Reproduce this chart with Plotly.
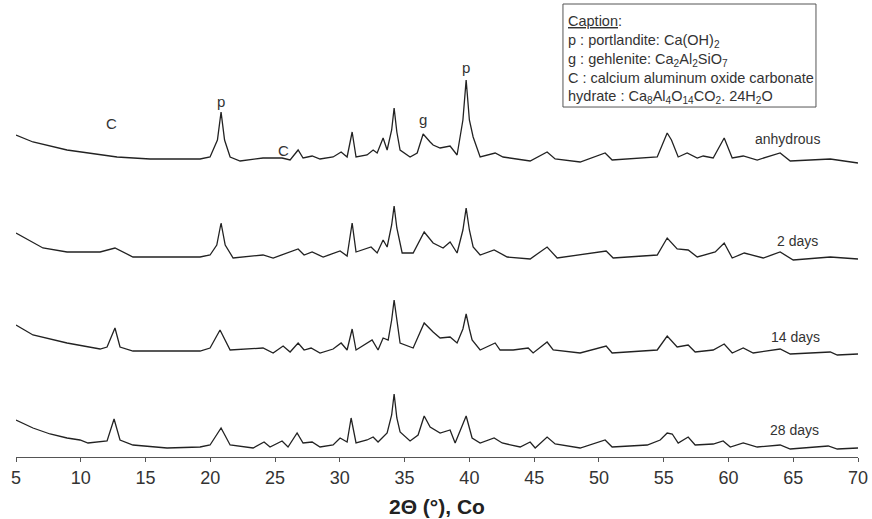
import plotly.graph_objects as go

# 2-theta (deg), intensity (a.u., stacked offsets included)
anhydrous = [(5.0,322),(6.31,315),(8.94,307),(11.49,302),(12.8,300),(15.35,298),(19.21,298),(19.98,300),
    (20.55,317),(20.83,345),(21.1,317),(21.53,300),(22.3,296),(24.07,299),(25.54,299),(26.16,297),
    (26.78,307),(27.16,299),(27.86,301),(28.47,298),(29.48,300),(30.10,305),(30.56,300),(30.95,325),
    (31.25,300),(32.10,302),(32.57,307),(32.88,304),(33.34,319),(33.65,307),(34.0,327),(34.19,349),
    (34.4,325),(34.65,307),(35.42,300),(35.97,304),(36.43,323),(36.97,315),(37.20,312),(37.74,309),
    (38.51,311),(39.05,302),(39.5,337),(39.75,377),(40.0,337),(40.29,320),(40.83,300),(41.99,304),
    (42.6,300),(44.69,296),(46.00,305),(46.62,298),(48.55,295),(50.48,304),(51.02,297),(54.50,300),
    (54.9,312),(55.27,324),(55.6,317),(56.12,300),(56.81,304),(57.59,299),(58.05,301),(58.82,299),
    (59.67,319),(60.29,299),(61.14,301),(62.22,297),(63.99,304),(64.77,296),(67.86,298),(70.0,294)]

days_2 = [(5.0,224),(7.08,209),(8.94,205),(11.49,205),(12.64,209),(14.03,200),(19.21,200),(19.98,202),
    (20.5,212),(20.83,234),(21.15,212),(21.76,199),(24.07,202),(24.85,199),(26.78,208),(27.24,202),
    (27.86,205),(28.71,200),(30.02,206),(30.56,201),(30.95,234),(31.25,205),(32.41,210),(32.88,204),
    (33.34,217),(33.65,210),(34.0,232),(34.19,251),(34.4,229),(34.81,204),(35.66,204),(36.51,225),
    (37.20,214),(37.97,209),(38.51,215),(39.05,204),(39.5,227),(39.75,249),(40.0,227),(40.29,210),
    (40.83,202),(41.91,207),(42.92,200),(44.69,198),(46.00,210),(46.78,199),(50.56,206),(51.10,199),
    (54.50,202),(55.27,219),(56.04,208),(56.89,207),(57.59,200),(58.98,205),(59.67,214),(60.29,199),
    (61.22,204),(62.68,199),(63.99,205),(65.00,197),(67.86,200),(70.0,198)]

days_14 = [(5.0,132),(6.31,122),(8.94,114),(11.49,108),(12.03,110),(12.64,129),(13.03,110),(14.03,106),
    (19.21,106),(19.98,109),(20.75,127),(21.53,107),(24.07,109),(24.85,104),(25.62,111),(26.16,105),
    (26.78,114),(27.24,107),(27.78,109),(28.47,104),(29.48,108),(30.10,114),(30.56,107),(30.95,128),
    (31.25,107),(32.49,117),(32.95,107),(33.34,119),(33.73,117),(34.0,137),(34.19,157),(34.4,135),
    (34.65,114),(35.66,109),(36.51,134),(37.20,125),(37.74,119),(38.51,120),(39.05,114),(39.5,128),
    (39.75,143),(40.0,128),(40.21,117),(40.83,107),(41.99,114),(42.37,107),(43.38,107),(44.54,109),
    (44.92,104),(46.00,115),(46.47,107),(48.55,104),(50.56,111),(51.02,104),(54.50,107),(55.27,121),
    (56.04,110),(56.89,112),(57.43,105),(58.82,107),(59.67,113),(60.29,104),(61.14,109),(61.91,104),
    (63.99,108),(64.77,103),(67.86,105),(68.40,102),(70.0,103)]

days_28 = [(5.0,37),(6.31,29),(7.63,23),(8.94,19),(9.94,17),(10.56,14),(12.03,16),(12.57,38),(13.03,17),
    (14.03,12),(16.66,9),(19.21,10),(19.98,12),(20.83,29),(21.53,12),(23.30,9),(24.15,15),(24.61,10),
    (25.54,16),(26.00,10),(26.70,24),(27.16,14),(27.86,15),(28.47,10),(29.48,12),(30.02,19),(30.56,15),
    (30.87,39),(31.25,14),(32.10,17),(32.57,20),(32.95,15),(33.65,24),(34.0,42),(34.19,63),(34.4,39),
    (34.65,25),(35.42,16),(36.04,22),(36.51,41),(36.97,30),(37.74,24),(38.51,27),(38.90,14),(39.75,41),
    (40.21,19),(40.83,14),(41.91,19),(42.53,14),(43.92,10),(44.69,15),(45.08,9),(46.00,20),(46.62,13),
    (48.55,9),(50.48,17),(51.02,10),(53.73,12),(54.73,17),(55.27,24),(55.66,23),(56.12,14),(56.89,20),
    (57.43,12),(58.82,13),(59.59,16),(60.14,10),(61.14,14),(62.22,10),(63.99,12),(64.77,8),(67.70,11),
    (68.40,8),(70.0,9)]

series_names = ["anhydrous", "2 days", "14 days", "28 days"]
series_data = [anhydrous, days_2, days_14, days_28]
series_label_pos = [(64.54, 318), (65.31, 216), (65.15, 120), (65.08, 27)]

phase_labels = ["C", "p", "C", "g", "p"]
phase_label_pos = [(12.41, 334), (20.83, 356), (25.62, 307), (36.43, 338), (39.75, 390)]

tick_vals = [5, 10, 15, 20, 25, 30, 35, 40, 45, 50, 55, 60, 65, 70]

caption_text = ("<u>Caption</u>:<br>p : portlandite: Ca(OH)<sub>2</sub><br>"
                "g : gehlenite: Ca<sub>2</sub>Al<sub>2</sub>SiO<sub>7</sub><br>"
                "C : calcium aluminum oxide carbonate<br>"
                "hydrate : Ca<sub>8</sub>Al<sub>4</sub>O<sub>14</sub>CO<sub>2</sub>. 24H<sub>2</sub>O")

FONT = "Liberation Sans, Arial, sans-serif"
fig = go.Figure()
for name, data in zip(series_names, series_data):
    fig.add_trace(go.Scatter(x=[p[0] for p in data], y=[p[1] for p in data], mode="lines",
                             name=name, line=dict(color="#222222", width=1.3)))

for name, (lx, ly) in zip(series_names, series_label_pos):
    fig.add_annotation(x=lx, y=ly, text=name, showarrow=False, font=dict(size=14, color="#333", family=FONT))
for t, (lx, ly) in zip(phase_labels, phase_label_pos):
    fig.add_annotation(x=lx, y=ly, text=t, showarrow=False, font=dict(size=15, color="#333", family=FONT))

fig.add_shape(type="rect", xref="paper", yref="paper", x0=0.6496, x1=0.9501, y0=0.7743, y1=1.0022,
              line=dict(color="#555", width=1))
fig.add_annotation(xref="paper", yref="paper", x=0.6532, y=0.9865, xanchor="left", yanchor="top",
                   align="left", text=caption_text, showarrow=False,
                   font=dict(size=14.5, color="#333", family=FONT))
fig.add_annotation(xref="paper", yref="paper", x=0.5, y=-0.1106, yanchor="middle",
                   text="<b>2Θ (°), Co</b>", showarrow=False, font=dict(size=21, color="#222", family=FONT))

fig.update_layout(width=872, height=519, margin=dict(l=16, r=14, t=5, b=62),
                  paper_bgcolor="white", plot_bgcolor="white", showlegend=False)
fig.update_xaxes(range=[5, 70], tickvals=tick_vals, ticks="outside", ticklen=4, tickcolor="#555",
                 showline=True, linecolor="#555", linewidth=1, showgrid=False, zeroline=False,
                 tickfont=dict(size=18, color="#333", family=FONT))
fig.update_yaxes(range=[0, 452], visible=False)
fig.write_html("out.html", config={"displayModeBar": False},
               post_script="document.body.style.margin='0px';")
